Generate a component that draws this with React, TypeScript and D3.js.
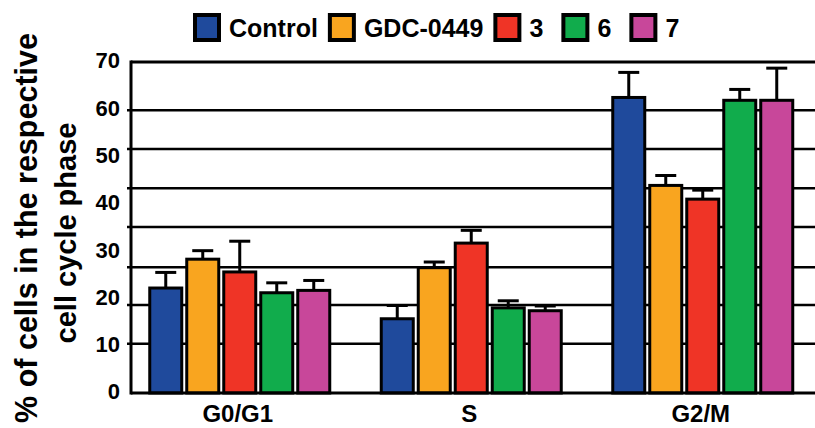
import * as d3 from 'd3';
import React, {useEffect, useRef} from 'react';

// cell cycle phases (x categories)
const phases = ['G0/G1', 'S', 'G2/M'];
const treatments = ['Control', 'GDC-0449', '3', '6', '7'];
const colors = ['#1f4a9c', '#f9a51f', '#ef3426', '#11ac4c', '#c8479a'];

// mean % of cells per phase (G0/G1, S, G2/M)
const controlMeans = [22.2, 15.7, 62.5];
const gdcMeans = [28.3, 26.5, 43.9];
const cmpd3Means = [25.6, 31.7, 41.0];
const cmpd6Means = [21.2, 18.0, 61.9];
const cmpd7Means = [21.7, 17.4, 61.9];

// error bars (upper only)
const controlErr = [3.3, 2.8, 5.3];
const gdcErr = [1.8, 1.2, 2.1];
const cmpd3Err = [6.5, 2.7, 1.9];
const cmpd6Err = [2.1, 1.5, 2.3];
const cmpd7Err = [2.1, 1.0, 6.8];

const yTicks = [0, 10, 20, 30, 40, 50, 60, 70];
// horizontal rules as they sit in the figure (not on the labelled ticks)
const gridValues = [10.4, 18.6, 26.6, 35.1, 43.3, 51.6, 59.8];

const FONT = 'Liberation Sans, Arial, Helvetica, sans-serif';

export default function App() {
  const ref = useRef<SVGSVGElement>(null);

  useEffect(() => {
    draw();
  }, []);

  function draw() {
    const svg = d3.select(ref.current);
    svg.selectAll('*').remove();

    const means = [controlMeans, gdcMeans, cmpd3Means, cmpd6Means, cmpd7Means];
    const errs = [controlErr, gdcErr, cmpd3Err, cmpd6Err, cmpd7Err];

    const rows = [];
    phases.forEach((p, i) => {
      treatments.forEach((t, j) => {
        rows.push({phase: p, treatment: t, mean: means[j][i], err: errs[j][i], color: colors[j]});
      });
    });

    const axisX = 131, right = 815;

    let y = d3.scaleLinear().domain([0, 70]).range([393, 62]);

    let x0 = d3.scaleBand().domain(phases).range([124, 818.5]);
    let x1 = d3.scaleBand().domain(treatments).range([-90, 90]).paddingInner(0.135);
    const cx = (d) => x0(d.phase) + x0.bandwidth() / 2;

    // grid lines
    svg.append('g')
      .selectAll('line')
      .data(gridValues)
      .enter()
      .append('line')
      .attr('x1', axisX - 4)
      .attr('x2', right)
      .attr('y1', (d) => y(d))
      .attr('y2', (d) => y(d))
      .attr('stroke', '#000')
      .attr('stroke-width', 2.5);

    // top frame line
    svg.append('line')
      .attr('x1', axisX).attr('x2', right)
      .attr('y1', y(70)).attr('y2', y(70))
      .attr('stroke', '#000').attr('stroke-width', 3);

    // error bars
    let eb = svg.append('g').selectAll('g').data(rows).enter().append('g');
    eb.append('line')
      .attr('x1', (d) => cx(d) + x1(d.treatment) + x1.bandwidth() / 2)
      .attr('x2', (d) => cx(d) + x1(d.treatment) + x1.bandwidth() / 2)
      .attr('y1', (d) => y(d.mean))
      .attr('y2', (d) => y(d.mean + d.err))
      .attr('stroke', '#000').attr('stroke-width', 3);
    eb.append('line')
      .attr('x1', (d) => cx(d) + x1(d.treatment) + x1.bandwidth() / 2 - 10.5)
      .attr('x2', (d) => cx(d) + x1(d.treatment) + x1.bandwidth() / 2 + 10.5)
      .attr('y1', (d) => y(d.mean + d.err))
      .attr('y2', (d) => y(d.mean + d.err))
      .attr('stroke', '#000').attr('stroke-width', 3);

    // bars
    svg.append('g')
      .selectAll('rect')
      .data(rows)
      .enter()
      .append('rect')
      .attr('x', (d) => cx(d) + x1(d.treatment))
      .attr('y', (d) => y(d.mean))
      .attr('width', x1.bandwidth())
      .attr('height', (d) => y(0) - y(d.mean))
      .attr('fill', (d) => d.color)
      .attr('stroke', '#000')
      .attr('stroke-width', 3);

    // axes
    svg.append('line')
      .attr('x1', axisX).attr('x2', axisX)
      .attr('y1', y(70) - 1.5).attr('y2', y(0) + 1.5)
      .attr('stroke', '#000').attr('stroke-width', 3);
    svg.append('line')
      .attr('x1', axisX).attr('x2', right)
      .attr('y1', y(0)).attr('y2', y(0))
      .attr('stroke', '#000').attr('stroke-width', 3);

    // y tick labels
    svg.append('g')
      .selectAll('text')
      .data(yTicks)
      .enter()
      .append('text')
      .attr('x', 120)
      .attr('y', (d) => y(d) - 1.5)
      .attr('dy', '0.36em')
      .attr('text-anchor', 'end')
      .style('font', `bold 22px ${FONT}`)
      .text((d) => d);

    // category labels
    svg.append('g')
      .selectAll('text')
      .data(phases)
      .enter()
      .append('text')
      .attr('x', (d) => x0(d) + x0.bandwidth() / 2 - 2)
      .attr('y', 422)
      .attr('text-anchor', 'middle')
      .style('font', `bold 24px ${FONT}`)
      .text((d) => d);

    // y axis title
    svg.append('text')
      .attr('transform', 'translate(37,228) rotate(-90)')
      .attr('text-anchor', 'middle')
      .style('font', `bold 30.5px ${FONT}`)
      .text('% of cells in the respective');
    svg.append('text')
      .attr('transform', 'translate(76,233) rotate(-90)')
      .attr('text-anchor', 'middle')
      .style('font', `bold 29px ${FONT}`)
      .text('cell cycle phase');

    // legend
    let lx = 193;
    treatments.forEach((t, i) => {
      let g = svg.append('g').attr('transform', `translate(${lx},0)`);
      g.append('rect')
        .attr('x', 2).attr('y', 15)
        .attr('width', 24).attr('height', 25)
        .attr('fill', colors[i])
        .attr('stroke', '#000').attr('stroke-width', 4);
      let txt = g.append('text')
        .attr('x', 36).attr('y', 37)
        .style('font', `bold 25px ${FONT}`)
        .text(t);
      let w = txt.node().getComputedTextLength();
      lx += 36 + Math.max(w + 10, 32);
    });
  }

  return (
    <svg ref={ref} width={815} height={428}
      style={{position: 'absolute', left: 0, top: 0, background: '#fff'}}></svg>
  );
}
